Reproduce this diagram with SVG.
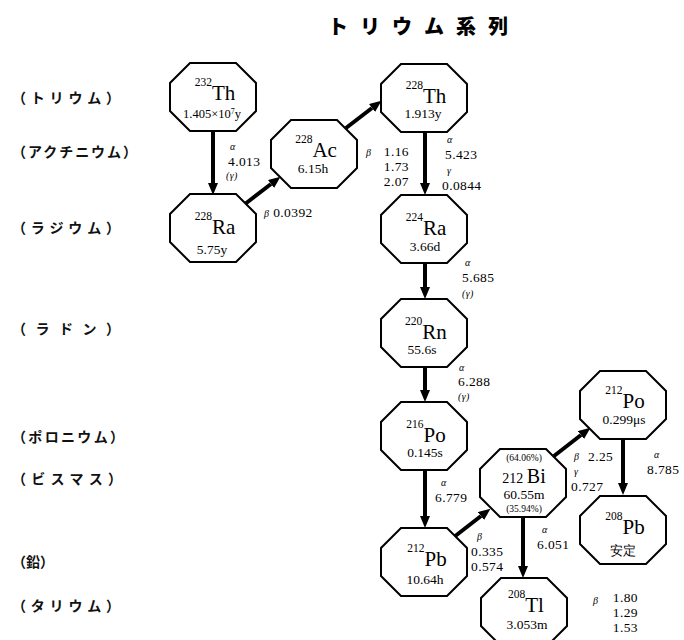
<svg xmlns="http://www.w3.org/2000/svg" width="684" height="640" viewBox="0 0 684 640">
<style>
.bg{fill:#fff}
.oct{fill:#fff;stroke:#000;stroke-width:2}
.jp{font-family:"Noto Sans CJK JP","Noto Sans CJK SC",sans-serif;font-weight:bold;font-size:14px;fill:#111}
.title{font-family:"Noto Sans CJK JP","Noto Sans CJK SC",sans-serif;font-weight:900;font-size:20px;fill:#000}
.n{font-family:"Liberation Serif",serif;fill:#000;text-anchor:middle}
.m{font-size:11.5px}
.s{font-size:21px}
.h{font-size:13.5px}
.lb{font-family:"Liberation Serif",serif;font-size:13.5px;letter-spacing:0.4px;fill:#000}
.gk{font-size:10px;font-style:italic}
.arr{stroke:#000;stroke-width:4;fill:none;marker-end:url(#ah)}
</style>
<defs>
<polygon id="oct" points="-23,-34 23,-34 43,-14 43,14 23,34 -23,34 -43,14 -43,-14"/>
<marker id="ah" viewBox="0 0 12 10" refX="0" refY="5" markerWidth="12" markerHeight="10" markerUnits="userSpaceOnUse" orient="auto">
<path d="M0,0 L12,5 L0,10 z" fill="#000"/>
</marker>
</defs>
<rect class="bg" width="684" height="640"/>
<text class="title" x="328" y="34" textLength="180" lengthAdjust="spacing">トリウム系列</text>
<g id="row-labels">
<text class="jp" x="12" y="103" textLength="108" lengthAdjust="spacing">（トリウム）</text>
<text class="jp" x="12" y="157" textLength="125" lengthAdjust="spacing">（アクチニウム）</text>
<text class="jp" x="12" y="233" textLength="108" lengthAdjust="spacing">（ラジウム）</text>
<text class="jp" x="12" y="334" textLength="108" lengthAdjust="spacing">（ラドン）</text>
<text class="jp" x="12" y="442" textLength="112" lengthAdjust="spacing">（ポロニウム）</text>
<text class="jp" x="12" y="484" textLength="110" lengthAdjust="spacing">（ビスマス）</text>
<text class="jp" x="12" y="567" textLength="42" lengthAdjust="spacing">（鉛）</text>
<text class="jp" x="12" y="611" textLength="108" lengthAdjust="spacing">（タリウム）</text>
</g>
<g id="connectors">
<line class="arr" x1="213" y1="131" x2="213" y2="183"/>
<line class="arr" x1="245" y1="204" x2="271" y2="184"/>
<line class="arr" x1="346" y1="128" x2="372" y2="108"/>
<line class="arr" x1="425" y1="132" x2="425" y2="183"/>
<line class="arr" x1="425" y1="263" x2="425" y2="287"/>
<line class="arr" x1="425" y1="367" x2="425" y2="390"/>
<line class="arr" x1="425" y1="470" x2="425" y2="516"/>
<line class="arr" x1="454" y1="537" x2="481" y2="516"/>
<line class="arr" x1="554" y1="456" x2="581" y2="435"/>
<line class="arr" x1="523" y1="517" x2="523" y2="566"/>
<line class="arr" x1="623" y1="439" x2="623" y2="483"/>
</g>
<g id="edge-labels" class="lb">
<text x="230" y="150" class="gk">α</text>
<text x="228" y="166">4.013</text>
<text x="226" y="179" class="gk">(γ)</text>
<text x="264" y="217"><tspan class="gk">β</tspan> 0.0392</text>
<text x="366" y="156" class="gk">β</text>
<text x="409" y="156" text-anchor="end">1.16</text>
<text x="409" y="171" text-anchor="end">1.73</text>
<text x="409" y="186" text-anchor="end">2.07</text>
<text x="447" y="143" class="gk">α</text>
<text x="445" y="159">5.423</text>
<text x="447" y="174" class="gk">γ</text>
<text x="442" y="190">0.0844</text>
<text x="465" y="266" class="gk">α</text>
<text x="462" y="282">5.685</text>
<text x="462" y="297" class="gk">(γ)</text>
<text x="459" y="371" class="gk">α</text>
<text x="458" y="386">6.288</text>
<text x="458" y="400" class="gk">(γ)</text>
<text x="441" y="486" class="gk">α</text>
<text x="435" y="502">6.779</text>
<text x="477" y="540" class="gk">β</text>
<text x="471" y="556">0.335</text>
<text x="471" y="571">0.574</text>
<text x="542" y="533" class="gk">α</text>
<text x="537" y="549">6.051</text>
<text x="574" y="460" class="gk">β</text>
<text x="588" y="461">2.25</text>
<text x="574" y="475" class="gk">γ</text>
<text x="571" y="491">0.727</text>
<text x="654" y="458" class="gk">α</text>
<text x="647" y="474">8.785</text>
<text x="593" y="604" class="gk">β</text>
<text x="638" y="602" text-anchor="end">1.80</text>
<text x="638" y="617" text-anchor="end">1.29</text>
<text x="638" y="632" text-anchor="end">1.53</text>
</g>
<g id="th232">
<use href="#oct" class="oct" x="213" y="97"/>
<text class="n" x="215" y="100"><tspan class="m" dy="-14">232</tspan><tspan class="s" dy="14">Th</tspan></text>
<text class="n" x="212" y="118" font-size="12.5">1.405×10<tspan font-size="8" dy="-4">7</tspan><tspan dy="4">y</tspan></text>
</g>
<g id="ra228">
<use href="#oct" class="oct" x="213" y="228"/>
<text class="n" x="215" y="234"><tspan class="m" dy="-14">228</tspan><tspan class="s" dy="14">Ra</tspan></text>
<text class="n h" x="212" y="254">5.75y</text>
</g>
<g id="ac228">
<use href="#oct" class="oct" x="314" y="154"/>
<text class="n" x="316" y="157"><tspan class="m" dy="-14">228</tspan><tspan class="s" dy="14">Ac</tspan></text>
<text class="n h" x="313" y="173">6.15h</text>
</g>
<g id="th228">
<use href="#oct" class="oct" x="424" y="98"/>
<text class="n" x="426" y="103"><tspan class="m" dy="-14">228</tspan><tspan class="s" dy="14">Th</tspan></text>
<text class="n h" x="423" y="118">1.913y</text>
</g>
<g id="ra224">
<use href="#oct" class="oct" x="424" y="229"/>
<text class="n" x="426" y="235"><tspan class="m" dy="-14">224</tspan><tspan class="s" dy="14">Ra</tspan></text>
<text class="n h" x="425" y="251">3.66d</text>
</g>
<g id="rn220">
<use href="#oct" class="oct" x="424" y="333"/>
<text class="n" x="426" y="339"><tspan class="m" dy="-14">220</tspan><tspan class="s" dy="14">Rn</tspan></text>
<text class="n h" x="422" y="354">55.6s</text>
</g>
<g id="po216">
<use href="#oct" class="oct" x="424" y="436"/>
<text class="n" x="426" y="442"><tspan class="m" dy="-14">216</tspan><tspan class="s" dy="14">Po</tspan></text>
<text class="n h" x="425" y="457">0.145s</text>
</g>
<g id="pb212">
<use href="#oct" class="oct" x="424" y="562"/>
<text class="n" x="427" y="566"><tspan class="m" dy="-14">212</tspan><tspan class="s" dy="14">Pb</tspan></text>
<text class="n h" x="425" y="584">10.64h</text>
</g>
<g id="bi212">
<use href="#oct" class="oct" x="523" y="483"/>
<text class="n" x="524" y="461" font-size="9.5">(64.06%)</text>
<text class="n" x="524" y="483"><tspan font-size="14">212 </tspan><tspan font-size="20">Bi</tspan></text>
<text class="n h" x="524" y="499">60.55m</text>
<text class="n" x="524" y="512" font-size="9.5">(35.94%)</text>
</g>
<g id="tl208">
<use href="#oct" class="oct" x="524" y="612"/>
<text class="n" x="526" y="612"><tspan class="m" dy="-14">208</tspan><tspan class="s" dy="14">Tl</tspan></text>
<text class="n h" x="527" y="629">3.053m</text>
</g>
<g id="po212">
<use href="#oct" class="oct" x="623" y="405"/>
<text class="n" x="625" y="408"><tspan class="m" dy="-14">212</tspan><tspan class="s" dy="14">Po</tspan></text>
<text class="n h" x="624" y="424">0.299μs</text>
</g>
<g id="pb208">
<use href="#oct" class="oct" x="623" y="530"/>
<text class="n" x="625" y="534"><tspan class="m" dy="-14">208</tspan><tspan class="s" dy="14">Pb</tspan></text>
<text class="n" x="623" y="555" font-family="Noto Sans CJK JP,sans-serif" font-size="13">安定</text>
</g>
</svg>
